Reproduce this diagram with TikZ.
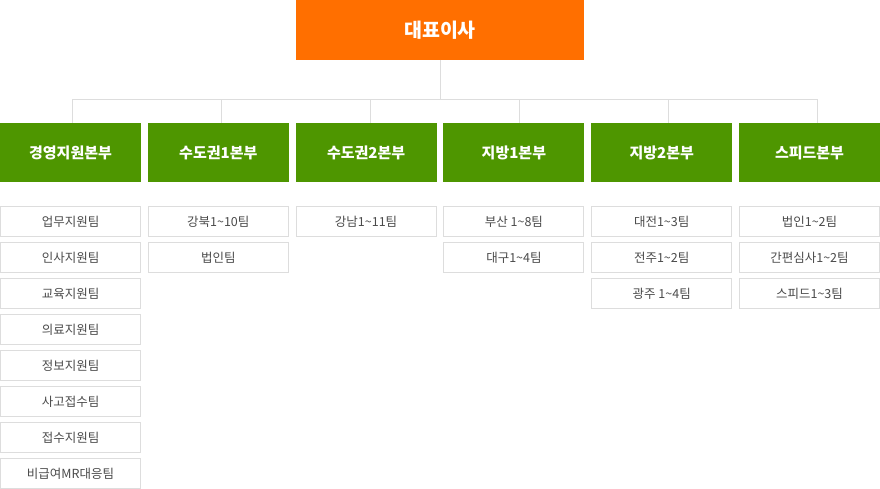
\documentclass[tikz,border=0pt]{standalone}
\usepackage{fontspec}
\setmainfont{Noto Sans CJK KR}
\definecolor{ceoorange}{HTML}{FF6F00}
\definecolor{deptgreen}{HTML}{4E9600}
\definecolor{linegray}{HTML}{DDDDDD}
\definecolor{teamtext}{HTML}{4A4A4A}
\newcommand{\tld}{\textasciitilde}
\begin{document}
\begin{tikzpicture}[x=1pt,y=-1pt,
  head/.style = {rectangle,fill=ceoorange,text=white,font=\bfseries\fontsize{19.5}{22}\selectfont,minimum width=288pt,minimum height=60pt,inner sep=0pt,outer sep=0pt},
  dept/.style = {rectangle,fill=deptgreen,text=white,font=\bfseries\fontsize{15}{17}\selectfont,minimum width=141pt,minimum height=59pt,inner sep=0pt,outer sep=0pt},
  team/.style = {rectangle,draw=linegray,line width=1pt,text=teamtext,font=\fontsize{12.5}{14}\selectfont,minimum width=140pt,minimum height=30pt,inner sep=0pt,outer sep=0pt},
  link/.style = {draw=linegray,line width=1pt}]
\useasboundingbox (0,0) rectangle (880,489);
\node[head] (ceo) at (440,30) {대표이사};
\foreach \d [count=\i] in {경영지원본부, 수도권1본부, 수도권2본부, 지방1본부, 지방2본부, 스피드본부}
    \node[dept] (d\i) at ({70.5+147.8*(\i-1)}, 152.5) {\d};
\coordinate (bus) at (440,100);
\draw[link] (ceo) -- (bus);
\foreach \i [evaluate=\i as \s using 1.5+1.2*(\i-1)] in {1,...,6}
    \draw[link] (bus) -| ([xshift=\s pt]d\i.north);
\foreach \t [count=\k from 0] in {업무지원팀, 인사지원팀, 교육지원팀, 의료지원팀, 정보지원팀, 사고접수팀, 접수지원팀, 비급여MR대응팀}
    \node[team] (ta\k) at (70.5, 221.5+36*\k) {\t};
\foreach \t [count=\k from 0] in {강북1\tld10팀, 법인팀}
    \node[team] (tb\k) at (218.3, 221.5+36*\k) {\t};
\foreach \t [count=\k from 0] in {강남1\tld11팀}
    \node[team] (tc\k) at (366.1, 221.5+36*\k) {\t};
\foreach \t [count=\k from 0] in {부산 1\tld8팀, 대구1\tld4팀}
    \node[team] (td\k) at (513.9, 221.5+36*\k) {\t};
\foreach \t [count=\k from 0] in {대전1\tld3팀, 전주1\tld2팀, 광주 1\tld4팀}
    \node[team] (te\k) at (661.7, 221.5+36*\k) {\t};
\foreach \t [count=\k from 0] in {법인1\tld2팀, 간편심사1\tld2팀, 스피드1\tld3팀}
    \node[team] (tf\k) at (809.5, 221.5+36*\k) {\t};
\end{tikzpicture}
\end{document}
